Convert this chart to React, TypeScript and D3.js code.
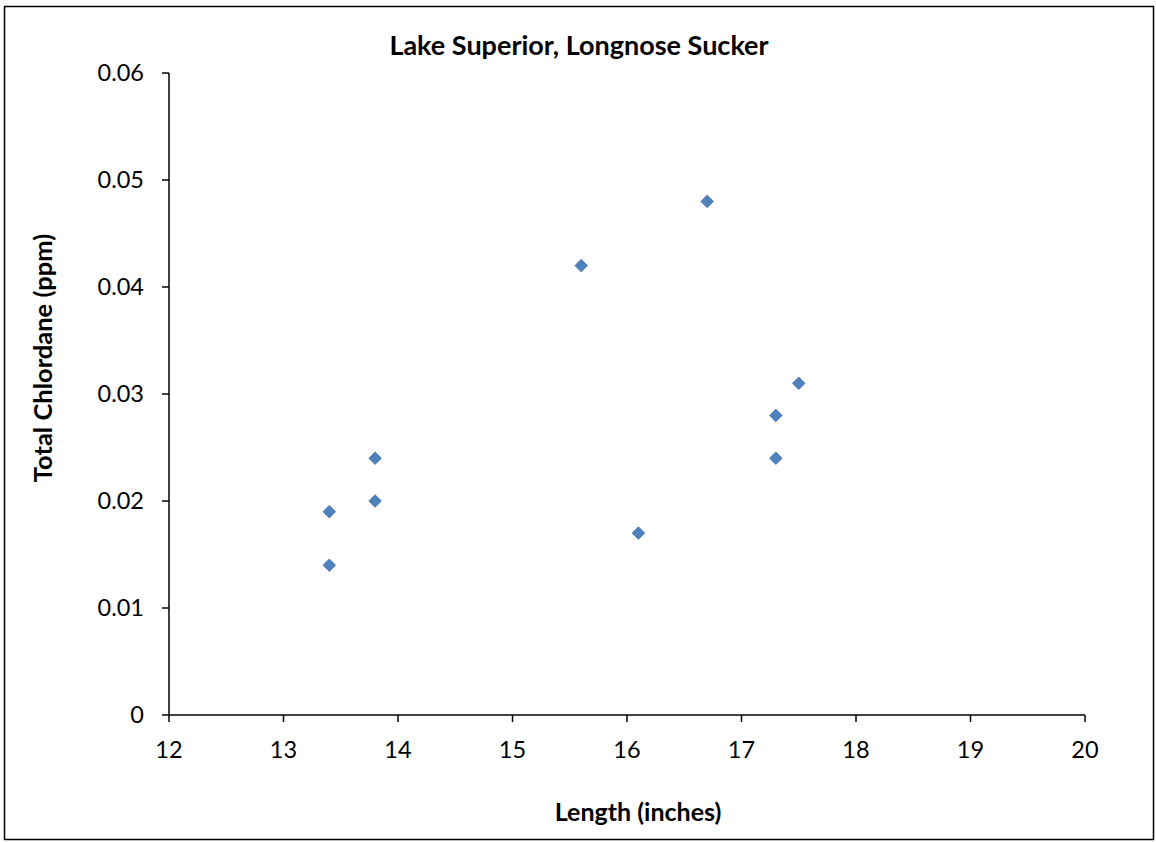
import React from "react";
import * as d3 from "d3";

const lengths = [13.4, 13.4, 13.8, 13.8, 15.6, 16.7, 16.1, 17.3, 17.3, 17.5];
const chlordane = [0.019, 0.014, 0.024, 0.02, 0.042, 0.048, 0.017, 0.028, 0.024, 0.031];
const xTicks = [12, 13, 14, 15, 16, 17, 18, 19, 20];
const yTicks = [0, 0.01, 0.02, 0.03, 0.04, 0.05, 0.06];
const title = "Lake Superior, Longnose Sucker";
const xLabel = "Length (inches)";
const yLabel = "Total Chlordane (ppm)";

const W = 1156;
const H = 842;
const font = "Lato, 'Open Sans', sans-serif";

export default function App() {
  const x = d3.scaleLinear().domain([12, 20]).range([169, 1085]);
  const y = d3.scaleLinear().domain([0, 0.06]).range([715, 73]);
  const diamond = d3.symbol().type(d3.symbolDiamond2).size(100)() as string;
  const fmtY = (v: number) => (v === 0 ? "0" : d3.format(".2f")(v));

  return (
    <svg
      width={W}
      height={H}
      style={{ position: "absolute", left: 0, top: 0, background: "#fff" }}
      fontFamily={font}
    >
      <rect x={4.5} y={6.5} width={1149} height={833} fill="#fff" stroke="#000" strokeWidth={1.5} />
      <text x={579} y={55} textAnchor="middle" fontSize={27} fontWeight="bold" fill="#000">
        {title}
      </text>
      {/* y axis */}
      <line x1={169} x2={169} y1={y(0.06)} y2={y(0)} stroke="#000" strokeWidth={1.5} />
      {yTicks.map((t) => (
        <g key={"y" + t}>
          <line x1={162} x2={169} y1={y(t)} y2={y(t)} stroke="#000" strokeWidth={1.5} />
          <text x={144} y={y(t)} dy="0.35em" textAnchor="end" fontSize={23.5} fill="#000">
            {fmtY(t)}
          </text>
        </g>
      ))}
      {/* x axis */}
      <line x1={x(12)} x2={x(20)} y1={715} y2={715} stroke="#000" strokeWidth={1.5} />
      {xTicks.map((t) => (
        <g key={"x" + t}>
          <line x1={x(t)} x2={x(t)} y1={715} y2={722} stroke="#000" strokeWidth={1.5} />
          <text x={x(t)} y={758} textAnchor="middle" fontSize={23.5} fill="#000">
            {t}
          </text>
        </g>
      ))}
      <text x={638} y={821} textAnchor="middle" fontSize={25} fontWeight="bold" fill="#000">
        {xLabel}
      </text>
      <text
        transform={`translate(52,358) rotate(-90)`}
        textAnchor="middle"
        fontSize={25.5}
        fontWeight="bold"
        fill="#000"
      >
        {yLabel}
      </text>
      {lengths.map((l, i) => (
        <path
          key={i}
          d={diamond}
          transform={`translate(${x(l)},${y(chlordane[i])})`}
          fill="#4F81BD"
          stroke="#3D6DA8"
          strokeWidth={0.8}
        />
      ))}
    </svg>
  );
}
